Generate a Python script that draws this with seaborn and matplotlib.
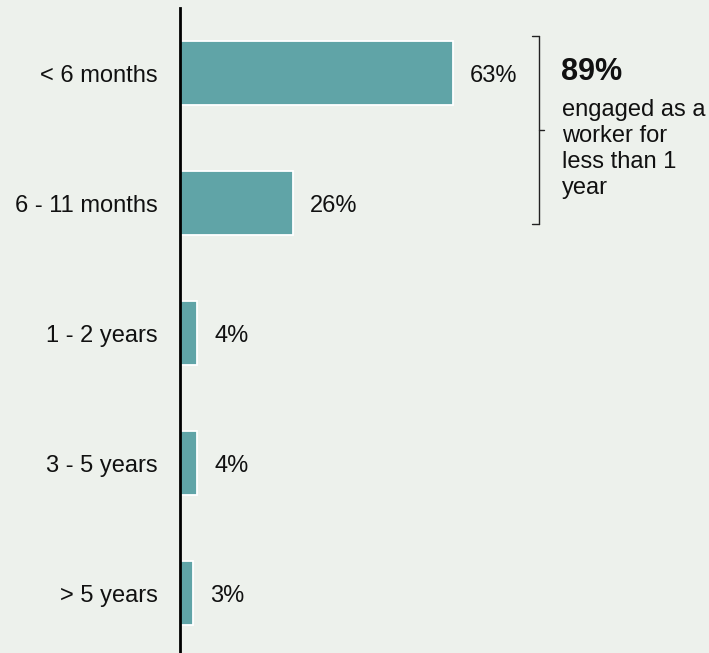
import matplotlib
matplotlib.use("Agg")
import matplotlib.pyplot as plt
from matplotlib.lines import Line2D
import seaborn as sns
import pandas as pd

# Length of engagement as a worker (share of respondents, %)
categories = ["< 6 months", "6 - 11 months", "1 - 2 years", "3 - 5 years", "> 5 years"]
shares = [63, 26, 4, 4, 3]
summary_value = "89%"
summary_text = "engaged as a\nworker for\nless than 1\nyear"

BG = "#EDF1EC"
TEAL = "#60A4A7"
W, H = 709, 653

sns.set_style("white", {"axes.facecolor": BG, "figure.facecolor": BG})
plt.rcParams["font.family"] = ["Liberation Sans", "DejaVu Sans"]

df = pd.DataFrame({"tenure": categories, "share": shares})

fig = plt.figure(figsize=(W / 100, H / 100), dpi=100)
ax = fig.add_axes([180 / W, 0, 1 - 180 / W, 1 - 8 / H])

sns.barplot(data=df, x="share", y="tenure", orient="h", color=TEAL,
            saturation=1, width=0.49, edgecolor="white", linewidth=1.3, ax=ax)

ax.set_xlim(0, 122)
ax.set_ylim(len(categories) - 0.54, -0.5)

labels = ax.bar_label(ax.containers[0], labels=[f"{v}%" for v in shares],
                      padding=12, fontsize=17, color="#111111")
for t in labels:
    t.set_va("center_baseline")

for s in ["top", "right", "bottom"]:
    ax.spines[s].set_visible(False)
ax.spines["left"].set_linewidth(2)
ax.spines["left"].set_color("black")
ax.spines["left"].set_zorder(5)

ax.set_xticks([])
ax.set_xlabel("")
ax.set_ylabel("")
ax.tick_params(axis="y", length=0, pad=16, labelsize=17, labelcolor="#111111")

# Bracket grouping the first two categories
def fx(px):
    return px / W

def fy(py):
    return 1 - py / H

bracket = [
    Line2D([fx(532), fx(538.5)], [fy(35.5), fy(35.5)]),
    Line2D([fx(538.5), fx(538.5)], [fy(35.5), fy(223.5)]),
    Line2D([fx(532), fx(538.5)], [fy(223.5), fy(223.5)]),
    Line2D([fx(538.5), fx(544)], [fy(130), fy(130)]),
]
for ln in bracket:
    ln.set_transform(fig.transFigure)
    ln.set_color("#222222")
    ln.set_linewidth(1)
    fig.add_artist(ln)

fig.text(fx(561), fy(80), summary_value, fontsize=22, fontweight="bold",
         color="#111111", va="baseline", ha="left")
# multi-line baseline alignment refers to the last line
fig.text(fx(562), fy(194), summary_text, fontsize=17, color="#111111",
         va="baseline", ha="left", linespacing=1.24)

fig.savefig("out.png", dpi=100, facecolor=BG)
